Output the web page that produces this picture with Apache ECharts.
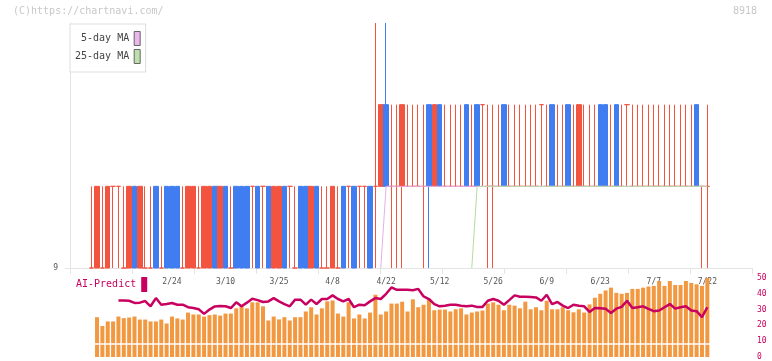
<!DOCTYPE html>
<html lang="en">
<head>
<meta charset="utf-8" />
<title>8918</title>
<style>
    html, body { margin: 0; padding: 0; background: #fff; }
    #main { width: 772px; height: 361px; }
</style>
</head>
<body>
<div id="main"></div>
<script src="https://cdn.jsdelivr.net/npm/echarts@6/dist/echarts.min.js"></script>
<script type="text/javascript">
    var dates = [
        '1/31', '2/3', '2/4', '2/5', '2/6', '2/7', '2/10', '2/12', '2/13', '2/14',
        '2/17', '2/18', '2/19', '2/20', '2/21', '2/24', '2/25', '2/26', '2/27', '2/28',
        '3/3', '3/4', '3/5', '3/6', '3/7', '3/10', '3/11', '3/12', '3/13', '3/14',
        '3/17', '3/18', '3/19', '3/20', '3/24', '3/25', '3/26', '3/27', '3/28', '3/31',
        '4/1', '4/2', '4/3', '4/4', '4/7', '4/8', '4/9', '4/10', '4/11', '4/14',
        '4/15', '4/16', '4/17', '4/18', '4/21', '4/22', '4/23', '4/24', '4/25', '4/28',
        '4/30', '5/1', '5/7', '5/8', '5/9', '5/12', '5/13', '5/14', '5/15', '5/16',
        '5/19', '5/20', '5/21', '5/22', '5/23', '5/26', '5/27', '5/28', '5/29', '5/30',
        '6/2', '6/3', '6/4', '6/5', '6/6', '6/9', '6/10', '6/11', '6/12', '6/13',
        '6/16', '6/17', '6/18', '6/19', '6/20', '6/23', '6/24', '6/25', '6/26', '6/27',
        '6/30', '7/1', '7/2', '7/3', '7/4', '7/7', '7/8', '7/9', '7/10', '7/11',
        '7/14', '7/15', '7/16', '7/17', '7/18', '7/22'
    ];

    var opens = [
        9, 9, 9, 9, 10, 10, 9, 9, 10, 9,
        9, 9, 10, 9, 10, 10, 10, 9, 9, 9,
        9, 9, 9, 10, 9, 10, 9, 10, 10, 10,
        10, 10, 10, 10, 9, 9, 10, 10, 9, 10,
        10, 9, 10, 9, 9, 9, 9, 10, 10, 10,
        10, 10, 10, 10, 10, 11, 10, 10, 10, 10,
        10, 10, 10, 11, 10, 11, 10, 10, 10, 10,
        11, 10, 11, 11, 10, 10, 10, 11, 10, 10,
        10, 10, 10, 10, 11, 10, 11, 10, 10, 11,
        10, 10, 10, 10, 10, 11, 11, 10, 11, 10,
        11, 10, 10, 10, 10, 10, 10, 10, 10, 10,
        10, 10, 10, 11, 10, 10
    ];
    var closes = [
        9, 10, 9, 10, 10, 10, 9, 10, 9, 10,
        9, 9, 9, 9, 9, 9, 9, 9, 10, 10,
        9, 10, 10, 9, 10, 9, 9, 9, 9, 9,
        10, 9, 10, 9, 10, 10, 9, 10, 9, 9,
        9, 10, 9, 9, 9, 10, 9, 9, 10, 9,
        10, 10, 9, 10, 11, 10, 10, 10, 11, 10,
        10, 10, 10, 10, 11, 10, 10, 10, 10, 10,
        10, 10, 10, 11, 10, 10, 10, 10, 10, 10,
        10, 10, 10, 10, 11, 10, 10, 10, 10, 10,
        10, 11, 10, 10, 10, 10, 10, 10, 10, 10,
        11, 10, 10, 10, 10, 10, 10, 10, 10, 10,
        10, 10, 10, 10, 10, 10
    ];
    var lows = [
        9, 9, 9, 9, 9, 9, 9, 9, 9, 9,
        9, 9, 9, 9, 9, 9, 9, 9, 9, 9,
        9, 9, 9, 9, 9, 9, 9, 9, 9, 9,
        9, 9, 9, 9, 9, 9, 9, 9, 9, 9,
        9, 9, 9, 9, 9, 9, 9, 9, 9, 9,
        9, 9, 9, 9, 10, 10, 9, 9, 9, 10,
        10, 10, 9, 9, 10, 10, 10, 10, 10, 10,
        10, 10, 10, 10, 9, 9, 10, 10, 10, 10,
        10, 10, 10, 10, 10, 10, 10, 10, 10, 10,
        10, 10, 10, 10, 10, 10, 10, 10, 10, 10,
        10, 10, 10, 10, 10, 10, 10, 10, 10, 10,
        10, 10, 10, 10, 9, 9
    ];
    var highs = [
        10, 10, 10, 10, 10, 10, 10, 10, 10, 10,
        10, 10, 10, 10, 10, 10, 10, 10, 10, 10,
        10, 10, 10, 10, 10, 10, 10, 10, 10, 10,
        10, 10, 10, 10, 10, 10, 10, 10, 10, 10,
        10, 10, 10, 10, 10, 10, 10, 10, 10, 10,
        10, 10, 10, 12, 11, 12, 11, 11, 11, 11,
        11, 11, 11, 11, 11, 11, 11, 11, 11, 11,
        11, 11, 11, 11, 11, 11, 11, 11, 11, 11,
        11, 11, 11, 11, 11, 11, 11, 11, 11, 11,
        11, 11, 11, 11, 11, 11, 11, 11, 11, 11,
        11, 11, 11, 11, 11, 11, 11, 11, 11, 11,
        11, 11, 11, 11, 10, 11
    ];

    var ma5 = [
        '-', '-', '-', '-', '-', '-', '-', '-', '-', '-',
        '-', '-', '-', '-', '-', '-', '-', '-', '-', '-',
        '-', '-', '-', '-', '-', '-', '-', '-', '-', '-',
        '-', '-', '-', '-', '-', '-', '-', '-', '-', '-',
        '-', '-', '-', '-', '-', '-', '-', '-', '-', '-',
        '-', '-', '-', '-', 9, 10, 10, 10, 10, 10,
        10, 10, 10, 10, 10, 10, 10, 10, 10, 10,
        10, 10, 10, 10, 10, 10, 10, 10, 10, 10,
        10, 10, 10, 10, 10, 10, 10, 10, 10, 10,
        10, 10, 10, 10, 10, 10, 10, 10, 10, 10,
        10, 10, 10, 10, 10, 10, 10, 10, 10, 10,
        10, 10, 10, 10, 10, 10
    ];
    var ma25 = [
        '-', '-', '-', '-', '-', '-', '-', '-', '-', '-',
        '-', '-', '-', '-', '-', '-', '-', '-', '-', '-',
        '-', '-', '-', '-', '-', '-', '-', '-', '-', '-',
        '-', '-', '-', '-', '-', '-', '-', '-', '-', '-',
        '-', '-', '-', '-', '-', '-', '-', '-', '-', '-',
        '-', '-', '-', '-', '-', '-', '-', '-', '-', '-',
        '-', '-', '-', '-', '-', '-', '-', '-', '-', '-',
        '-', 9, 10, 10, 10, 10, 10, 10, 10, 10,
        10, 10, 10, 10, 10, 10, 10, 10, 10, 10,
        10, 10, 10, 10, 10, 10, 10, 10, 10, 10,
        10, 10, 10, 10, 10, 10, 10, 10, 10, 10,
        10, 10, 10, 10, 10, 10
    ];

    var volumes = [
        '-', 25.2, 19.6, 22.5, 22.5, 25.6, 24.6, 25, 25.6, 23.7,
        23.7, 22.5, 22.5, 23.7, 21.2, 25.6, 24.4, 23.7, 28.1, 26.9,
        26.9, 25.6, 26.5, 26.9, 26.2, 27.5, 27.5, 30.8, 32.7, 30.8,
        34.6, 34.6, 32.1, 23.1, 25.6, 23.8, 25.2, 23.1, 25.2, 25.2,
        28.8, 31.5, 26.9, 30.8, 35.2, 35.8, 27.5, 25.6, 34.6, 24.4,
        26.9, 24.4, 28.1, 39.4, 26.9, 28.8, 33.8, 33.8, 35, 28.8,
        36.5, 31.5, 33.1, 36.5, 29.6, 30, 30, 28.8, 30.2, 30.8,
        26.9, 28.1, 28.8, 29.4, 33.8, 34.6, 33.1, 29.6, 33.1, 32.5,
        30.8, 35, 30.2, 31.5, 29.6, 35.6, 30.2, 30.2, 31.5, 29.6,
        28.3, 30.2, 28.1, 33.3, 37.5, 40, 42.1, 43.9, 40.6, 40,
        40.6, 43.1, 43.1, 43.9, 44.6, 45, 48.1, 45, 48.1, 45.6,
        45.6, 48.1, 46.9, 46, 45, 50
    ];
    var aiPredict = [
        '-', '-', '-', 35.6, '-', 35.8, 35.8, 35.6, 34.2, 34.4,
        35.4, 32.1, 37.3, 33.1, 33.6, 34.2, 33.1, 33.1, 31.5, 31,
        30.2, 27.3, 30, 32, 32.3, 32.1, 31, 34.6, 32.1, 34.4,
        36.9, 36, 34.8, 35.2, 37.3, 35.2, 33.5, 32.1, 36.3, 36.3,
        33.1, 36.3, 33.5, 36.7, 36.7, 39, 36.7, 35.2, 36.7, 31.5,
        33.1, 32.8, 35.2, 37.3, 36.7, 40, 44, 42.5, 42.5, 42.5,
        42.3, 43.1, 38.3, 36.7, 33.5, 32.1, 32.5, 33.1, 33.1, 32.5,
        32.1, 32.5, 31.7, 31.7, 35.6, 36.7, 35.6, 33.1, 36, 39,
        38.1, 38.1, 37.9, 37.7, 35.6, 39.4, 33.5, 34.8, 32.5, 31,
        33.1, 32.5, 32.1, 28.5, 31, 30.8, 30.6, 27.9, 30.6, 31.7,
        35.6, 31, 31.5, 32.1, 30.5, 29, 29.4, 31.5, 33.5, 30.6,
        31.5, 32.1, 29.5, 29, 25.2, 31.5
    ];

    var candles = [];
    for (var i = 0; i < dates.length; i++) {
        candles.push([opens[i], closes[i], lows[i], highs[i]]);
    }

    var mono = "'DejaVu Sans Mono', monospace";
    var upColor = '#f25440';
    var downColor = '#407df0';
    var aiColor = '#c8005f';
    var frameColor = '#e4e4e4';

    var chart = echarts.init(document.getElementById('main'));
    var option = {
        animation: false,
        backgroundColor: '#fff',
        title: [
            {
                text: '(C)https://chartnavi.com/',
                left: 13, top: 6, padding: 0,
                textStyle: {fontFamily: mono, fontSize: 10, fontWeight: 'normal', color: '#c8c8c8'}
            },
            {
                text: '8918',
                right: 15, top: 6, padding: 0,
                textStyle: {fontFamily: mono, fontSize: 10, fontWeight: 'normal', color: '#c8c8c8'}
            }
        ],
        legend: [
            {
                data: ['5-day MA', '25-day MA'],
                orient: 'vertical',
                align: 'right',
                left: 70, top: 24,
                padding: [7, 5, 8, 5],
                itemGap: 3,
                itemWidth: 6, itemHeight: 14,
                icon: 'rect',
                selectedMode: false,
                backgroundColor: '#fff',
                borderColor: '#dddddd', borderWidth: 1,
                itemStyle: {borderColor: '#666', borderWidth: 1},
                formatter: function (name) { return name.padStart(9); },
                textStyle: {fontFamily: mono, fontSize: 10, color: '#444'}
            },
            {
                data: ['AI-Predict'],
                align: 'right',
                left: 76, top: 277,
                padding: 0,
                itemWidth: 6, itemHeight: 15,
                icon: 'rect',
                selectedMode: false,
                textStyle: {fontFamily: mono, fontSize: 10, color: aiColor}
            }
        ],
        grid: [
            {left: 70, right: 20, top: 23, bottom: 93},
            {left: 89, right: 62, top: 23, bottom: 93},
            {left: 89, right: 62, top: 278, bottom: 3}
        ],
        xAxis: [
            {
                gridIndex: 0, type: 'value', min: 0, max: 11, interval: 1,
                axisLine: {lineStyle: {color: frameColor}},
                axisTick: {length: 6, lineStyle: {color: frameColor}},
                axisLabel: {show: false},
                splitLine: {show: false}
            },
            {
                gridIndex: 1, type: 'category', data: dates, boundaryGap: true,
                axisLine: {show: false},
                axisTick: {show: false},
                axisLabel: {
                    interval: function (index) { return index >= 15 && (index - 15) % 10 === 0; },
                    margin: 10, fontFamily: mono, fontSize: 8, color: '#555'
                },
                splitLine: {show: false}
            },
            {
                gridIndex: 2, type: 'category', data: dates, boundaryGap: true,
                show: false
            }
        ],
        yAxis: [
            {
                gridIndex: 0, type: 'value', min: 9, max: 12, interval: 1,
                axisLine: {show: true, lineStyle: {color: frameColor}},
                axisTick: {show: true, length: 5, customValues: [9], lineStyle: {color: frameColor}},
                axisLabel: {customValues: [9], margin: 12, fontFamily: mono, fontSize: 8, color: '#555'},
                splitLine: {show: false}
            },
            {
                gridIndex: 1, type: 'value', min: 9, max: 12,
                show: false, splitLine: {show: false}
            },
            {
                gridIndex: 2, type: 'value', min: 0, max: 50, interval: 10,
                position: 'right', offset: 42,
                axisLine: {show: false},
                axisTick: {show: false},
                axisLabel: {margin: 5, fontFamily: mono, fontSize: 8, color: aiColor},
                splitLine: {show: false}
            }
        ],
        series: [
            {
                name: '5-day MA', type: 'line',
                xAxisIndex: 1, yAxisIndex: 1,
                data: ma5, color: '#ebb6eb',
                showSymbol: false, symbol: 'none',
                lineStyle: {width: 1, color: '#e6b0e6'}
            },
            {
                name: '25-day MA', type: 'line',
                xAxisIndex: 1, yAxisIndex: 1,
                data: ma25, color: '#bde0ab',
                showSymbol: false, symbol: 'none',
                lineStyle: {width: 1, color: '#b4dca4'}
            },
            {
                name: 'price', type: 'candlestick',
                xAxisIndex: 1, yAxisIndex: 1,
                data: candles,
                barWidth: 5,
                itemStyle: {
                    color: upColor, color0: downColor,
                    borderColor: upColor, borderColor0: downColor,
                    borderColorDoji: upColor,
                    borderWidth: 1
                }
            },
            {
                name: 'volume', type: 'bar',
                xAxisIndex: 2, yAxisIndex: 2,
                data: volumes,
                barWidth: 4,
                itemStyle: {color: '#f29840'},
                markLine: {
                    silent: true, symbol: 'none',
                    label: {show: false},
                    lineStyle: {color: '#fff', width: 1.5, type: 'solid'},
                    data: [{yAxis: 8.5}]
                }
            },
            {
                name: 'AI-Predict', type: 'line',
                xAxisIndex: 2, yAxisIndex: 2,
                data: aiPredict, color: aiColor,
                showSymbol: false, symbol: 'none',
                lineStyle: {width: 2.5, color: aiColor}
            }
        ]
    };
    chart.setOption(option);
</script>
</body>
</html>
